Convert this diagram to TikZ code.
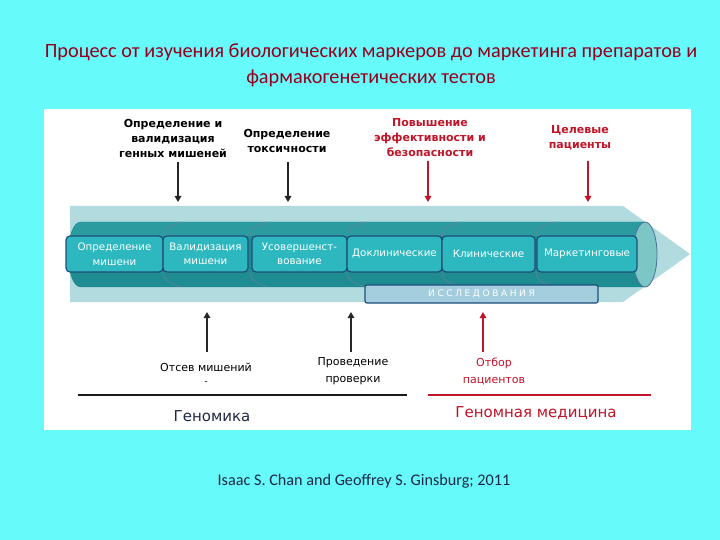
\documentclass[tikz,border=0pt]{standalone}
\usepackage{fontspec}
\setmainfont{DejaVu Sans}
\newfontfamily\carl{Carlito}
\usetikzlibrary{arrows.meta}
\definecolor{bgcyan}{RGB}{102,250,250}
\definecolor{titlered}{RGB}{150,0,30}
\definecolor{labred}{RGB}{192,20,40}
\definecolor{navy}{RGB}{31,78,121}
\definecolor{band}{RGB}{178,219,224}
\definecolor{cylbody}{RGB}{30,140,145}
\definecolor{cyltop}{RGB}{44,155,160}
\definecolor{cylcap}{RGB}{124,198,198}
\definecolor{tile}{RGB}{44,184,190}
\definecolor{barfill}{RGB}{164,206,222}
\definecolor{ink}{RGB}{30,40,70}
\tikzset{
  x=1pt,y=-1pt,
  tilebox/.style={draw=navy,line width=1.2pt,fill=tile,rounded corners=4pt,
    minimum height=36pt,inner sep=0pt,text=white,align=center,
    font=\fontsize{10.3}{14.5}\selectfont},
  toplab/.style={align=center,inner sep=0pt,font=\bfseries\fontsize{11}{15}\selectfont},
  botlab/.style={align=center,inner sep=0pt,font=\fontsize{11}{17}\selectfont},
  darr/.style={line width=2.3pt,-{Triangle[length=6pt,width=6.5pt]}},
}
\begin{document}
\begin{tikzpicture}
\useasboundingbox (0,0) rectangle (720,540);
\fill[bgcyan] (0,0) rectangle (720,540);
\fill[white] (44,109) rectangle (691,430);

% title
\node[text=titlered,align=center,font=\carl\fontsize{20.3}{26}\selectfont] (title) at (371,65)
  {Процесс от изучения биологических маркеров до маркетинга препаратов и\\фармакогенетических тестов};

% big arrow band
\fill[band] (70,206) -- (623,206) -- (690,254) -- (623,302) -- (70,302) -- cycle;

% cylinder
\fill[cylbody] (80,222) -- (645,222) -- (645,287) -- (80,287) arc[start angle=270,end angle=90,x radius=12,y radius=-32.5] -- cycle;
\fill[cyltop] (80,222) -- (645,222) -- (645,236) -- (70,236) to[out=-90,in=180] cycle;
\foreach \xx in {163,250,347,442,536}{
  \draw[navy!70,line width=0.6pt] (\xx,236) to[out=90,in=200] (\xx+18,222);
  \draw[navy!70,line width=0.6pt] (\xx,272) to[out=-90,in=160] (\xx+18,287);
}
\filldraw[fill=cylcap,draw=navy!80,line width=0.8pt] (645,254.5) ellipse[x radius=12,y radius=32.5];

% tiles
\node[tilebox,minimum width=97pt] (t1) at (114.5,254) {Определение\\мишени};
\node[tilebox,minimum width=85pt] (t2) at (205.5,254) {Валидизация\\мишени};
\node[tilebox,minimum width=95pt] (t3) at (299.5,254) {Усовершенст-\\вование};
\node[tilebox,minimum width=95pt] (t4) at (394.5,254) {Доклинические};
\node[tilebox,minimum width=93pt] (t5) at (488.5,254) {Клинические};
\node[tilebox,minimum width=100pt] (t6) at (587,254) {Маркетинговые};

% research bar
\node[draw=navy,line width=1.2pt,fill=barfill,rounded corners=2pt,minimum width=233pt,minimum height=18pt,
  inner sep=0pt,text=white,font=\fontsize{9}{10}\selectfont] (bar) at (481.5,294)
  {И\kern2.6pt С\kern2.6pt С\kern2.6pt Л\kern2.6pt Е\kern2.6pt Д\kern2.6pt О\kern2.6pt В\kern2.6pt А\kern2.6pt Н\kern2.6pt И\kern2.6pt Я};

% top labels
\node[toplab] (l1) at (173,138) {Определение и\\валидизация\\генных мишеней};
\node[toplab] (l2) at (287,140.5) {Определение\\токсичности};
\node[toplab,text=labred] (l3) at (430,138) {Повышение\\эффективности и\\безопасности};
\node[toplab,text=labred] (l4) at (580,137.5) {Целевые\\пациенты};

\coordinate (a1s) at (178,162); \coordinate (a1e) at (178,202);
\coordinate (a2s) at (288,162); \coordinate (a2e) at (288,202);
\coordinate (a3s) at (428,161); \coordinate (a3e) at (428,202);
\coordinate (a4s) at (588,161); \coordinate (a4e) at (588,202);
\draw[darr,black!85] (a1s) -- (a1e);
\draw[darr,black!85] (a2s) -- (a2e);
\draw[darr,labred] (a3s) -- (a3e);
\draw[darr,labred] (a4s) -- (a4e);

% bottom labels
\node[botlab] (b1) at (206,375.5) {Отсев мишений\\{\fontsize{9}{9}\selectfont ˘}};
\node[botlab] (b2) at (353,371.5) {Проведение\\проверки};
\node[botlab,text=labred] (b3) at (494,371.5) {Отбор\\пациентов};

\coordinate (u1s) at (207,352); \coordinate (u1e) at (207,312);
\coordinate (u2s) at (351,352); \coordinate (u2e) at (351,312);
\coordinate (u3s) at (483,352); \coordinate (u3e) at (483,312);
\draw[darr,black!85] (u1s) -- (u1e);
\draw[darr,black!85] (u2s) -- (u2e);
\draw[darr,labred] (u3s) -- (u3e);

% genomics lines
\coordinate (g1) at (78,395); \coordinate (g2) at (407,395);
\coordinate (m1) at (428,395); \coordinate (m2) at (651,395);
\draw[line width=2.7pt,black!90] (g1) -- (g2);
\draw[line width=2.7pt,labred] (m1) -- (m2);
\node[text=ink,font=\fontsize{15}{18}\selectfont] (gen) at (212,416) {Геномика};
\node[text=labred,font=\fontsize{15}{18}\selectfont] (gmed) at (536,413) {Геномная медицина};

% citation
\node[text=ink,font=\carl\fontsize{16.2}{18}\selectfont] (cite) at (364,481) {Isaac S. Chan and Geoffrey S. Ginsburg; 2011};
\end{tikzpicture}
\end{document}
